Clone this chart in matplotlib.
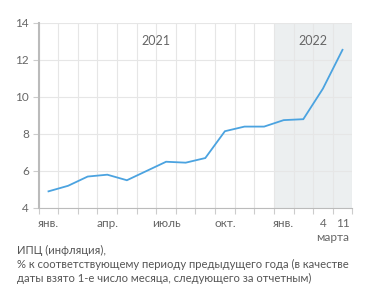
import matplotlib
matplotlib.use("Agg")
import matplotlib.pyplot as plt
from matplotlib.ticker import FixedLocator

plt.rcParams['font.family'] = ['Lato', 'DejaVu Sans']

# Data
values = [4.9, 5.2, 5.7, 5.8, 5.5, 6.0, 6.5, 6.45, 6.7, 8.15, 8.4, 8.4, 8.75, 8.8, 10.45, 12.55]
tick_pos = [0, 3, 6, 9, 12, 14, 15]
tick_labels = ["янв.", "апр.", "июль", "окт.", "янв.", "4", "11"]
yticks = [4, 6, 8, 10, 12, 14]
year_labels = ["2021", "2022"]
year_pos = [5.5, 13.5]
caption = ("ИПЦ (инфляция),\n"
           "% к соответствующему периоду предыдущего года (в качестве\n"
           "даты взято 1-е число месяца, следующего за отчетным)")

fig = plt.figure(figsize=(3.71, 3.01), dpi=100)
ax = fig.add_axes([0.1043, 0.309, 0.8453, 0.6146])

x = list(range(len(values)))
ax.axvspan(11.5, 15.5, color='#eceff0', zorder=0, lw=0)
ax.plot(x, values, color='#4ba3e0', lw=1.3, zorder=3, solid_joinstyle='miter')

ax.set_xlim(-0.5, 15.5)
ax.set_ylim(4, 14)

ax.set_xticks(tick_pos)
ax.set_xticklabels(tick_labels)
ax.xaxis.set_minor_locator(FixedLocator([i - 0.5 for i in range(len(values) + 1)]))
ax.tick_params(axis='x', which='major', length=0, pad=7, labelsize=8.5, labelcolor='#666666')
ax.tick_params(axis='x', which='minor', length=4, color='#cccccc', width=0.8)
ax.set_yticks(yticks)
ax.tick_params(axis='y', length=4, color='#cccccc', width=0.8, labelsize=8.5, labelcolor='#666666', pad=3)

ax.grid(True, which='minor', axis='x', color='#e6e6e6', lw=0.8, zorder=1)
ax.grid(True, which='major', axis='y', color='#e6e6e6', lw=0.8, zorder=1)
ax.set_axisbelow(True)

for s in ['top', 'right']:
    ax.spines[s].set_visible(False)
ax.spines['left'].set_color('#bbbbbb')
ax.spines['left'].set_linewidth(1.5)
ax.spines['bottom'].set_color('#bbbbbb')
ax.spines['bottom'].set_linewidth(0.8)

for lbl, px in zip(year_labels, year_pos):
    ax.text(px, 13.0, lbl, ha='center', va='center', fontsize=9, color='#666666')

ax.text(14.5, -0.128, "марта", transform=ax.get_xaxis_transform(), ha='center', va='top',
        fontsize=8.5, color='#666666')

fig.text(17 / 371, 1 - 245 / 301, caption, ha='left', va='top', fontsize=8.1,
         color='#555555', linespacing=1.3)

fig.savefig("out.png", dpi=100)
